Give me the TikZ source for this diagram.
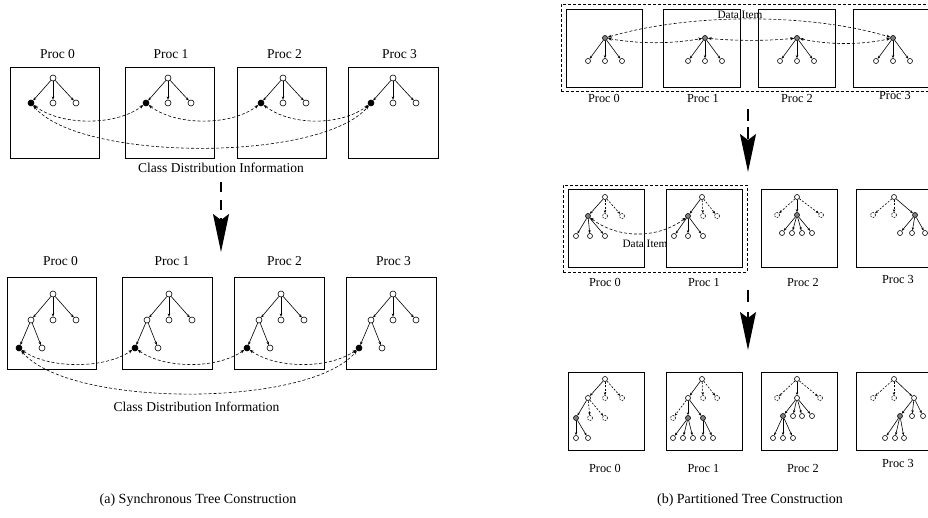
\documentclass[tikz,border=0pt]{standalone}
\usepackage{fontspec}
\setmainfont{Liberation Serif}
\usetikzlibrary{arrows.meta}
\begin{document}
\begin{tikzpicture}[x=1pt,y=-1pt,
  pbox/.style={draw,line width=0.8pt,inner sep=0pt},
  dframe/.style={draw,line width=0.7pt,dash pattern=on 3pt off 2pt,inner sep=0pt},
  lab/.style={font=\fontsize{13.5}{14}\selectfont,anchor=base,inner sep=0pt},
  rlab/.style={font=\fontsize{12.3}{13}\selectfont,anchor=base,inner sep=0pt},
  dlab/.style={font=\fontsize{11.3}{12}\selectfont,anchor=base,inner sep=0pt},
  captext/.style={font=\fontsize{14}{16}\selectfont,anchor=base,inner sep=0pt},
  ln/.style={circle,draw,line width=0.6pt,fill=white,inner sep=0pt,minimum size=6pt},
  lf/.style={ln,fill=black},
  rn/.style={circle,draw,line width=0.6pt,fill=white,inner sep=0pt,minimum size=5pt},
  rg/.style={rn,fill=gray},
  rd/.style={circle,draw,line width=0.6pt,dash pattern=on 1.6pt off 1.2pt,inner sep=0pt,minimum size=5pt},
  edge/.style={line width=0.6pt,-{Stealth[length=3.2pt,width=2.6pt]}},
  redge/.style={line width=0.6pt,-{Stealth[length=3pt,width=2.4pt]}},
  rdedge/.style={redge,dash pattern=on 2pt off 1.5pt},
  comm/.style={line width=0.6pt,dash pattern=on 3pt off 2pt,{Stealth[length=4pt,width=3pt]}-{Stealth[length=4pt,width=3pt]}},
  bigarrow/.style={line width=1.5pt,-{Stealth[length=38pt,width=16pt,inset=6pt]}},
]
\useasboundingbox (0,0) rectangle (928,518);

% ---------------- (a) top row ----------------
\foreach \i/\cx/\lx in {0/55/57.5,1/170/171,2/282/284.5,3/393.5/399.5}{
  \node[pbox,minimum width=89.5pt,minimum height=91pt] (A\i) at (\cx,112.5) {};
  \node[lab] (Al\i) at (\lx,58.5) {Proc \i};
}
\foreach \i/\rx in {0/53,1/168,2/283,3/393}{
  \node[ln] (Ar\i) at (\rx,78) {};
  \node[lf] (Aa\i) at ({\rx-22},103) {};
  \node[ln] (Ab\i) at (\rx,103) {};
  \node[ln] (Ac\i) at ({\rx+23},103) {};
  \draw[edge] (Ar\i) -- (Aa\i);
  \draw[edge] (Ar\i) -- (Ab\i);
  \draw[edge] (Ar\i) -- (Ac\i);
}
\draw[comm] (Aa0) .. controls +(30,23) and +(-30,23) .. (Aa1);
\draw[comm] (Aa1) .. controls +(30,23) and +(-30,23) .. (Aa2);
\draw[comm] (Aa2) .. controls +(30,23) and +(-30,23) .. (Aa3);
\draw[comm] (Aa0) .. controls +(50,59) and +(-50,59) .. (Aa3);
\node[lab] (At) at (221,172.5) {Class Distribution Information};

% big arrow (a)
\coordinate (LA1) at (221,182);
\coordinate (LA2) at (221,252);
\draw[bigarrow,dash pattern=on 10pt off 8pt] (LA1) -- (LA2);

% ---------------- (a) bottom row ----------------
\foreach \i/\cx/\lx in {0/52/60.5,1/167.5/172,2/279.5/284.5,3/391.5/393.5}{
  \node[pbox,minimum width=89.5pt,minimum height=92pt] (B\i) at (\cx,323) {};
  \node[lab] (Bl\i) at (\lx,265.5) {Proc \i};
}
\foreach \i/\rx in {0/53,1/169,2/281,3/393}{
  \node[ln] (Br\i) at (\rx,294) {};
  \node[ln] (Ba\i) at ({\rx-22},320) {};
  \node[ln] (Bb\i) at (\rx,320) {};
  \node[ln] (Bc\i) at ({\rx+23},320) {};
  \node[lf] (Bd\i) at ({\rx-34},348) {};
  \node[ln] (Be\i) at ({\rx-11},348) {};
  \draw[edge] (Br\i) -- (Ba\i);
  \draw[edge] (Br\i) -- (Bb\i);
  \draw[edge] (Br\i) -- (Bc\i);
  \draw[edge] (Ba\i) -- (Bd\i);
  \draw[edge] (Ba\i) -- (Be\i);
}
\draw[comm] (Bd0) .. controls +(30,21) and +(-30,21) .. (Bd1);
\draw[comm] (Bd1) .. controls +(30,21) and +(-30,21) .. (Bd2);
\draw[comm] (Bd2) .. controls +(30,21) and +(-30,21) .. (Bd3);
\draw[comm] (Bd0) .. controls +(50,60) and +(-50,60) .. (Bd3);
\node[lab] (Bt) at (196.5,411.5) {Class Distribution Information};

\node[captext] (capa) at (198,503) {(a) Synchronous Tree Construction};

% ---------------- (b) top row ----------------
\node[dframe,minimum width=374pt,minimum height=87pt] (Cf) at (748,47.5) {};
\foreach \i/\cx/\w in {0/604.5/76,1/702/77,2/796.5/77,3/892/78}{
  \node[pbox,minimum width=\w pt,minimum height=78pt] (C\i) at (\cx,48) {};
}
\node[rlab] (Cl0) at (604,103) {Proc 0};
\node[rlab] (Cl1) at (703,103) {Proc 1};
\node[rlab] (Cl2) at (797,103) {Proc 2};
\node[rlab] (Cl3) at (895,100) {Proc 3};
\foreach \i/\rx in {0/605,1/705,2/797,3/893}{
  \node[rg] (Cr\i) at (\rx,38) {};
  \node[rn] (Ca\i) at ({\rx-17},61) {};
  \node[rn] (Cb\i) at (\rx,61) {};
  \node[rn] (Cc\i) at ({\rx+17},61) {};
  \draw[redge] (Cr\i) -- (Ca\i);
  \draw[redge] (Cr\i) -- (Cb\i);
  \draw[redge] (Cr\i) -- (Cc\i);
}
\node[dlab] (Ct) at (740,18.6) {Data Item};
\draw[comm] (Cr0) .. controls (690,13) and (810,13) .. (Cr3);
\draw[comm] (Cr0) .. controls +(35,6) and +(-35,6) .. (Cr1);
\draw[comm] (Cr1) .. controls +(30,3) and +(-30,3) .. (Cr2);
\draw[comm] (Cr2) .. controls +(32,7) and +(-32,7) .. (Cr3);

% arrow 1 (b)
\coordinate (RA1) at (748,109);
\coordinate (RA2) at (748,172);
\draw[bigarrow,dash pattern=on 12pt off 6pt] (RA1) -- (RA2);

% ---------------- (b) middle row ----------------
\node[dframe,minimum width=184pt,minimum height=87pt] (Df) at (655,228.5) {};
\foreach \i/\cx in {0/606,1/704,2/799,3/894}{
  \node[pbox,minimum width=76pt,minimum height=78pt] (D\i) at (\cx,228) {};
}
\node[rlab] (Dl0) at (605,287) {Proc 0};
\node[rlab] (Dl1) at (704,287) {Proc 1};
\node[rlab] (Dl2) at (803,287) {Proc 2};
\node[rlab] (Dl3) at (898,284) {Proc 3};
% box 0
\node[rn] (D0r) at (605,197) {};
\node[rg] (D0a) at (588,216) {};
\node[rd] (D0b) at (605,216) {};
\node[rd] (D0c) at (622,216) {};
\node[rn] (D0d) at (576,236) {};
\node[rn] (D0e) at (590,236) {};
\node[rn] (D0f) at (605,236) {};
\draw[redge] (D0r) -- (D0a);
\draw[rdedge] (D0r) -- (D0b);
\draw[rdedge] (D0r) -- (D0c);
\draw[redge] (D0a) -- (D0d);
\draw[redge] (D0a) -- (D0e);
\draw[redge] (D0a) -- (D0f);
% box 1
\node[rn] (D1r) at (702,197) {};
\node[rg] (D1a) at (688,216) {};
\node[rd] (D1b) at (703,216) {};
\node[rd] (D1c) at (717,216) {};
\node[rn] (D1d) at (674,236) {};
\node[rn] (D1e) at (688,236) {};
\node[rn] (D1f) at (703,236) {};
\draw[redge] (D1r) -- (D1a);
\draw[rdedge] (D1r) -- (D1b);
\draw[rdedge] (D1r) -- (D1c);
\draw[redge] (D1a) -- (D1d);
\draw[redge] (D1a) -- (D1e);
\draw[redge] (D1a) -- (D1f);
% box 2
\node[rn] (D2r) at (797,197) {};
\node[rd] (D2a) at (777,215) {};
\node[rg] (D2b) at (797,215) {};
\node[rd] (D2c) at (821,215) {};
\node[rn] (D2d) at (782,233) {};
\node[rn] (D2e) at (792,233) {};
\node[rn] (D2f) at (802,233) {};
\node[rn] (D2g) at (812,233) {};
\draw[rdedge] (D2r) -- (D2a);
\draw[redge] (D2r) -- (D2b);
\draw[rdedge] (D2r) -- (D2c);
\draw[redge] (D2b) -- (D2d);
\draw[redge] (D2b) -- (D2e);
\draw[redge] (D2b) -- (D2f);
\draw[redge] (D2b) -- (D2g);
% box 3
\node[rn] (D3r) at (894,197) {};
\node[rd] (D3a) at (873,215) {};
\node[rd] (D3b) at (894,215) {};
\node[rg] (D3c) at (915,215) {};
\node[rn] (D3d) at (900,233) {};
\node[rn] (D3e) at (912,233) {};
\node[rn] (D3f) at (925,233) {};
\draw[rdedge] (D3r) -- (D3a);
\draw[rdedge] (D3r) -- (D3b);
\draw[redge] (D3r) -- (D3c);
\draw[redge] (D3c) -- (D3d);
\draw[redge] (D3c) -- (D3e);
\draw[redge] (D3c) -- (D3f);
\draw[comm] (D0a) .. controls +(30,23) and +(-30,23) .. (D1a);
\node[dlab] (Dt) at (645,247.6) {Data Item};

% arrow 2 (b)
\coordinate (RB1) at (748,290);
\coordinate (RB2) at (748,350);
\draw[bigarrow,dash pattern=on 12pt off 10pt] (RB1) -- (RB2);

% ---------------- (b) bottom row ----------------
\foreach \i/\cx in {0/606,1/704,2/799.5,3/894}{
  \node[pbox,minimum width=76pt,minimum height=78pt] (E\i) at (\cx,411) {};
}
\node[rlab] (El0) at (605,472) {Proc 0};
\node[rlab] (El1) at (703.5,472) {Proc 1};
\node[rlab] (El2) at (803,472) {Proc 2};
\node[rlab] (El3) at (898,467) {Proc 3};
% box 0
\node[rn] (E0r) at (605,379) {};
\node[rn] (E0a) at (588,398) {};
\node[rd] (E0b) at (605,398) {};
\node[rd] (E0c) at (622,398) {};
\node[rg] (E0d) at (576,418) {};
\node[rd] (E0e) at (590,418) {};
\node[rd] (E0f) at (605,418) {};
\node[rn] (E0g) at (576,438) {};
\node[rn] (E0h) at (588,438) {};
\draw[redge] (E0r) -- (E0a);
\draw[rdedge] (E0r) -- (E0b);
\draw[rdedge] (E0r) -- (E0c);
\draw[redge] (E0a) -- (E0d);
\draw[rdedge] (E0a) -- (E0e);
\draw[rdedge] (E0a) -- (E0f);
\draw[redge] (E0d) -- (E0g);
\draw[redge] (E0d) -- (E0h);
% box 1
\node[rn] (E1r) at (702,379) {};
\node[rn] (E1a) at (688,398) {};
\node[rd] (E1b) at (703,398) {};
\node[rd] (E1c) at (717,398) {};
\node[rd] (E1d) at (673,418) {};
\node[rg] (E1e) at (688,418) {};
\node[rg] (E1f) at (703,418) {};
\node[rn] (E1g) at (673,438) {};
\node[rn] (E1h) at (683,438) {};
\node[rn] (E1i) at (693,438) {};
\node[rn] (E1j) at (703,438) {};
\node[rn] (E1k) at (713,438) {};
\draw[redge] (E1r) -- (E1a);
\draw[rdedge] (E1r) -- (E1b);
\draw[rdedge] (E1r) -- (E1c);
\draw[rdedge] (E1a) -- (E1d);
\draw[redge] (E1a) -- (E1e);
\draw[redge] (E1a) -- (E1f);
\draw[redge] (E1e) -- (E1g);
\draw[redge] (E1e) -- (E1h);
\draw[redge] (E1e) -- (E1i);
\draw[redge] (E1f) -- (E1j);
\draw[redge] (E1f) -- (E1k);
% box 2
\node[rn] (E2r) at (797,379) {};
\node[rd] (E2a) at (777,398) {};
\node[rn] (E2b) at (797,398) {};
\node[rd] (E2c) at (820,398) {};
\node[rg] (E2d) at (783,416) {};
\node[rn] (E2e) at (793,416) {};
\node[rn] (E2f) at (802,416) {};
\node[rn] (E2g) at (812,416) {};
\node[rn] (E2h) at (773,438) {};
\node[rn] (E2i) at (783,438) {};
\node[rn] (E2j) at (793,438) {};
\draw[rdedge] (E2r) -- (E2a);
\draw[redge] (E2r) -- (E2b);
\draw[rdedge] (E2r) -- (E2c);
\draw[redge] (E2b) -- (E2d);
\draw[redge] (E2b) -- (E2e);
\draw[redge] (E2b) -- (E2f);
\draw[redge] (E2b) -- (E2g);
\draw[redge] (E2d) -- (E2h);
\draw[redge] (E2d) -- (E2i);
\draw[redge] (E2d) -- (E2j);
% box 3
\node[rn] (E3r) at (894,379) {};
\node[rd] (E3a) at (873,398) {};
\node[rd] (E3b) at (894,398) {};
\node[rn] (E3c) at (914,398) {};
\node[rg] (E3d) at (900,416) {};
\node[rn] (E3e) at (912,416) {};
\node[rn] (E3f) at (923,416) {};
\node[rn] (E3g) at (885,438) {};
\node[rn] (E3h) at (895,438) {};
\node[rn] (E3i) at (904,438) {};
\draw[rdedge] (E3r) -- (E3a);
\draw[rdedge] (E3r) -- (E3b);
\draw[redge] (E3r) -- (E3c);
\draw[redge] (E3c) -- (E3d);
\draw[redge] (E3c) -- (E3e);
\draw[redge] (E3c) -- (E3f);
\draw[redge] (E3d) -- (E3g);
\draw[redge] (E3d) -- (E3h);
\draw[redge] (E3d) -- (E3i);

\node[captext] (capb) at (750,503) {(b) Partitioned Tree Construction};
\end{tikzpicture}
\end{document}
